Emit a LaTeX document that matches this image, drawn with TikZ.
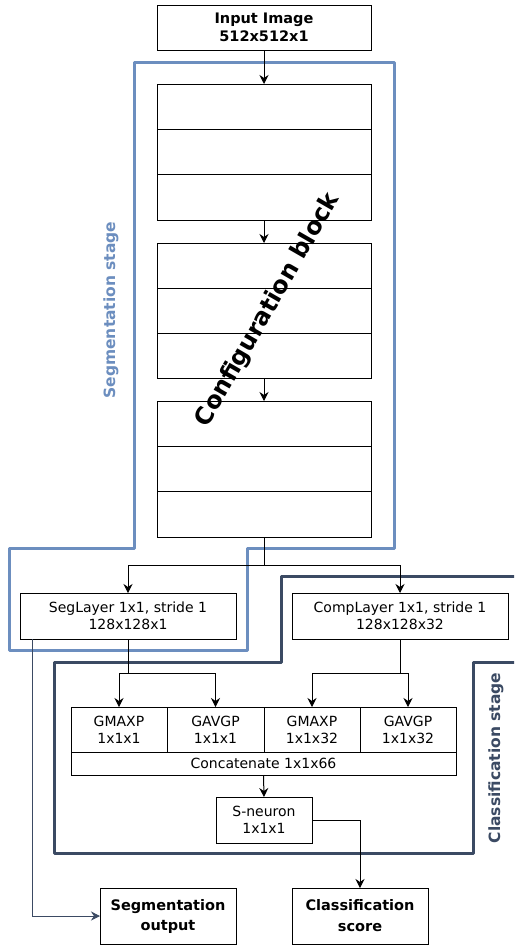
\documentclass[tikz,border=0pt]{standalone}
\usepackage{fontspec}
\setmainfont{DejaVu Sans}
\usetikzlibrary{arrows.meta}
\definecolor{segblue}{RGB}{108,142,191}
\definecolor{clsdark}{RGB}{59,74,99}
\tikzset{
  box/.style={draw=black, line width=1pt, anchor=north west, inner sep=0pt, outer sep=0pt,
    align=center, font=\fontsize{14}{17}\selectfont},
  bbox/.style={box, font=\bfseries\fontsize{14.5}{18}\selectfont},
  arr/.style={-{Stealth[length=9pt,width=9pt,inset=3pt]}, line width=1pt, draw=black},
  conn/.style={line width=1pt, draw=black},
  thinarr/.style={-{Stealth[length=9pt,width=9pt,inset=3pt]}, line width=0.8pt, draw=clsdark},
  stageline/.style={line width=3pt, line join=round},
}
\begin{document}
\begin{tikzpicture}[x=1pt,y=-1pt]
\useasboundingbox (0,0) rectangle (514,945);
\clip (0,0) rectangle (514,945);
\fill[white] (0,0) rectangle (514,945);

% stage borders
\draw[stageline, draw=segblue] (134,62) -- (394,62) -- (394,548) -- (247,548) -- (247,650) -- (9,650) -- (9,548) -- (134,548) -- cycle;
\draw[stageline, draw=clsdark] (530,576) -- (281,576) -- (281,662) -- (54,662) -- (54,853) -- (473,853) -- (473,662) -- (530,662);

% input
\node[bbox, minimum width=214pt, minimum height=45pt] (inp) at (157,5) {Input Image\\512x512x1};

% configuration blocks
\node[box, minimum width=214pt, minimum height=45.33pt] (c1a) at (157,84) {};
\node[box, minimum width=214pt, minimum height=45.33pt] (c1b) at (157,129.33) {};
\node[box, minimum width=214pt, minimum height=45.33pt] (c1c) at (157,174.67) {};
\node[box, minimum width=214pt, minimum height=45pt] (c2a) at (157,243) {};
\node[box, minimum width=214pt, minimum height=45pt] (c2b) at (157,288) {};
\node[box, minimum width=214pt, minimum height=45pt] (c2c) at (157,333) {};
\node[box, minimum width=214pt, minimum height=45.33pt] (c3a) at (157,401) {};
\node[box, minimum width=214pt, minimum height=45.33pt] (c3b) at (157,446.33) {};
\node[box, minimum width=214pt, minimum height=45.33pt] (c3c) at (157,491.67) {};

\node[rotate=60, font=\bfseries\fontsize{24}{28}\selectfont, inner sep=0pt] (cfg) at (268,310) {Configuration block};

% stage labels
\node[rotate=90, font=\bfseries\fontsize{15.5}{18}\selectfont, text=segblue, inner sep=0pt] (seglab) at (111,310) {Segmentation stage};
\node[rotate=90, font=\bfseries\fontsize{15.5}{18}\selectfont, text=clsdark, inner sep=0pt] (clslab) at (496,758) {Classification stage};

% layers
\node[box, minimum width=216pt, minimum height=46pt] (seg) at (20,593) {SegLayer 1x1, stride 1\\128x128x1};
\node[box, minimum width=216pt, minimum height=46pt] (comp) at (292,593) {CompLayer 1x1, stride 1\\128x128x32};

% pooling
\node[box, minimum width=96pt, minimum height=45pt] (p1) at (71,707) {GMAXP\\1x1x1};
\node[box, minimum width=97pt, minimum height=45pt] (p2) at (167,707) {GAVGP\\1x1x1};
\node[box, minimum width=96pt, minimum height=45pt] (p3) at (264,707) {GMAXP\\1x1x32};
\node[box, minimum width=96pt, minimum height=45pt] (p4) at (360,707) {GAVGP\\1x1x32};
\node[box, minimum width=385pt, minimum height=23pt] (cat) at (71,752) {Concatenate 1x1x66};

\node[box, minimum width=96pt, minimum height=46pt] (sn) at (216,797) {S-neuron\\1x1x1};

% outputs
\node[bbox, minimum width=136pt, minimum height=56pt, font=\bfseries\fontsize{14.5}{20}\selectfont] (segout) at (100,888) {Segmentation\\output};
\node[bbox, minimum width=136pt, minimum height=56pt, font=\bfseries\fontsize{14.5}{21}\selectfont] (clsout) at (292,888) {Classification\\score};

% connectors
\draw[arr] (inp.south) -- (c1a.north);
\draw[arr] (c1c.south) -- (c2a.north);
\draw[arr] (c2c.south) -- (c3a.north);
\draw[conn] (c3c.south) -- ++(0,28) coordinate (split);
\draw[arr] (split) -| (seg.north);
\draw[arr] (split) -| (comp.north);
\draw[conn] (seg.south) -- ++(0,34) coordinate (s2);
\draw[arr] (s2) -| (p1.north);
\draw[arr] (s2) -| (p2.north);
\draw[conn] (comp.south) -- ++(0,34) coordinate (s3);
\draw[arr] (s3) -| (p3.north);
\draw[arr] (s3) -| (p4.north);
\draw[arr] (cat.south) -- (sn.north);
\draw[arr] (sn.east) -| (clsout.north);
\draw[thinarr] ([xshift=-96pt]seg.south) |- (segout.west);
\end{tikzpicture}
\end{document}
